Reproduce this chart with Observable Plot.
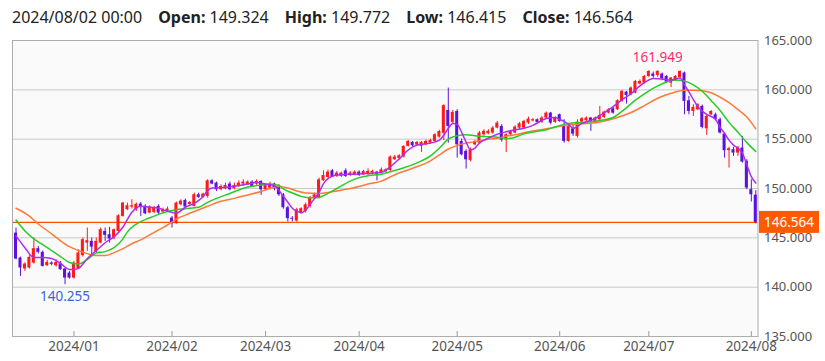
<!DOCTYPE html>
<html><head><meta charset="utf-8">
<script src="https://cdn.jsdelivr.net/npm/d3@7"></script>
<script src="https://cdn.jsdelivr.net/npm/@observablehq/plot@0.6"></script>
<style>
body{margin:0;background:#fff;font-family:"Noto Sans",sans-serif;}
#hdr{height:36px;line-height:35px;padding-left:12px;font-size:16px;color:#222;white-space:nowrap;}
#hdr span{margin-right:16px}
#hdr b{font-weight:700}
</style></head><body>
<div id="hdr"></div>
<div id="chart"></div>
<script>
// ---- data ----
const opens  = [145.48,142.95,141.84,141.94,142.44,143.90,143.53,142.17,142.44,142.17,142.37,141.84,141.43,140.92,141.84,143.19,144.47,144.64,143.53,144.47,145.65,145.31,144.98,145.65,147.17,147.85,148.12,147.85,148.42,148.19,147.51,147.58,148.19,147.61,147.71,147.00,146.43,148.35,148.79,148.38,148.19,149.36,149.10,149.20,150.78,150.55,149.87,149.97,150.45,149.97,150.21,150.45,150.38,150.65,150.45,150.72,149.87,150.04,150.45,150.21,149.36,148.05,146.98,146.70,147.55,147.68,148.18,149.10,149.03,150.78,151.12,151.79,151.22,151.22,151.79,151.32,151.39,151.66,151.39,151.46,151.56,151.66,151.56,151.70,151.83,152.91,153.05,153.19,154.27,154.67,154.40,154.27,154.43,154.60,154.77,155.21,155.60,157.91,156.70,157.81,154.77,153.76,152.85,154.43,154.60,155.45,155.55,155.62,156.12,156.29,154.94,155.45,155.62,156.12,156.12,156.63,156.85,156.97,156.70,157.14,157.64,156.70,157.47,156.29,154.77,156.05,155.28,156.73,156.87,157.14,156.63,156.97,157.20,157.64,158.08,157.98,158.83,159.77,159.50,159.67,160.58,160.68,161.36,161.60,161.46,161.60,161.36,160.68,160.92,161.26,161.70,158.89,157.81,157.98,158.32,156.05,157.47,157.47,156.97,155.52,153.83,153.93,153.59,154.10,152.75,149.88,149.324];
const highs  = [145.99,143.05,142.47,143.19,144.98,144.13,143.66,142.71,142.58,142.78,142.61,141.94,141.60,142.61,143.79,144.98,145.99,144.98,144.98,145.99,145.99,146.06,145.89,147.34,148.59,148.52,148.86,148.52,148.59,148.35,148.25,148.19,148.35,148.02,148.12,147.17,148.62,148.86,148.93,148.69,149.54,149.53,149.53,150.88,150.88,150.65,150.38,150.55,150.65,150.55,150.78,150.88,150.78,150.78,150.88,150.78,150.45,150.65,150.55,150.38,149.50,148.20,147.15,148.00,148.05,148.52,149.20,149.53,151.05,151.79,151.86,151.93,151.73,151.66,151.99,151.73,151.79,151.79,151.86,151.99,151.86,151.73,152.07,152.00,153.30,153.35,153.42,154.34,154.88,154.77,154.77,154.77,154.90,155.00,155.55,155.90,158.50,160.18,157.90,157.98,155.00,153.93,154.10,154.90,155.78,155.95,155.95,156.29,156.80,156.46,155.55,155.90,156.36,156.70,156.90,157.23,157.10,157.05,157.30,157.75,157.71,157.25,157.55,156.97,156.46,156.46,156.97,157.20,157.25,157.20,157.25,158.32,157.85,158.10,158.22,159.00,159.95,159.84,160.30,160.95,161.00,161.45,161.93,161.80,161.949,161.70,161.45,161.26,161.45,161.93,161.80,159.33,158.49,158.60,158.45,157.47,157.90,157.64,157.14,155.62,154.17,154.17,154.27,155.28,152.92,150.89,149.772];
const lows   = [142.78,141.09,141.60,141.84,142.34,143.36,142.04,142.11,142.17,142.04,141.70,140.255,140.82,140.82,141.77,143.05,143.63,143.29,143.46,144.40,144.64,144.47,144.81,145.48,147.10,147.78,147.92,147.68,147.17,147.34,147.44,147.44,147.34,147.51,147.58,145.99,146.40,148.25,148.02,148.25,148.12,149.00,149.03,149.03,150.38,149.70,149.77,149.87,149.77,149.87,150.11,150.21,150.31,150.11,150.31,149.30,149.77,149.87,149.77,149.20,147.90,146.60,146.62,146.60,147.40,147.51,148.01,148.95,148.95,150.72,151.05,151.12,151.12,151.12,151.12,151.22,151.29,151.22,151.32,151.32,151.46,150.78,151.46,151.60,151.70,152.85,152.95,153.09,154.20,154.20,154.30,153.66,154.35,154.50,154.70,155.10,154.85,154.60,156.50,153.08,153.30,151.97,152.70,154.30,154.53,155.30,155.45,155.50,156.05,154.70,153.65,155.35,155.55,156.00,156.00,156.50,156.75,156.60,156.60,157.05,156.46,156.60,156.70,154.60,154.70,155.28,155.11,156.63,156.75,155.79,156.55,156.87,157.10,157.55,157.54,157.90,158.75,158.56,159.40,159.60,160.50,160.60,161.26,161.19,161.26,160.92,160.65,160.24,160.85,161.12,157.47,157.47,157.30,157.90,156.05,155.38,157.40,156.87,155.52,153.08,152.07,153.25,153.25,152.58,149.88,148.63,146.415];
const closes = [142.85,141.94,142.34,143.02,143.90,143.53,142.11,142.51,142.31,142.51,141.77,140.92,140.92,142.44,143.46,144.81,144.71,144.06,144.64,145.82,145.25,144.88,145.82,147.24,148.52,148.25,148.25,148.39,148.12,147.44,148.12,148.02,147.51,147.85,147.92,146.43,148.52,148.72,148.12,148.59,149.37,149.10,149.43,150.78,150.45,149.87,150.21,150.31,149.87,150.31,150.55,150.65,150.65,150.21,150.72,149.87,150.31,150.45,149.97,149.36,148.05,146.95,146.88,147.85,147.95,148.35,149.03,149.36,150.88,151.32,151.66,151.22,151.56,151.56,151.22,151.56,151.66,151.32,151.73,151.73,151.73,151.46,151.90,151.90,153.19,153.19,153.32,154.27,154.77,154.33,154.67,154.67,154.77,154.87,155.45,155.78,158.39,156.29,157.71,154.43,153.42,152.91,153.93,154.77,155.62,155.79,155.80,156.12,156.63,154.90,155.45,155.78,156.22,156.56,156.80,157.03,156.97,156.70,157.14,157.64,156.63,157.14,156.80,154.77,156.29,155.52,156.73,157.07,157.14,156.73,157.14,157.41,157.74,157.98,157.64,158.89,159.84,159.43,160.18,160.85,160.85,161.36,161.86,161.36,161.86,161.12,160.78,161.19,161.36,161.86,158.83,157.81,158.22,158.49,156.19,157.30,157.81,156.97,155.62,153.83,154.03,153.59,154.10,152.68,150.04,149.37,146.564];

// moving averages: [candle index, value]
const maFast = [[0,145.2],[2,144.0],[4,143.0],[6,143.0],[8,142.9],[10,142.4],[12,141.8],[13,141.8],[14,141.9],[16,142.9],[18,143.7],[20,144.5],[22,145.1],[24,146.1],[26,147.6],[28,148.2],[30,148.1],[32,148.0],[34,147.7],[36,147.5],[38,148.1],[40,148.5],[41,148.8],[42,149.2],[43,149.8],[44,150.05],[46,150.1],[48,150.15],[50,150.3],[52,150.45],[54,150.6],[56,150.45],[58,150.3],[59,149.8],[60,149.2],[61,148.6],[62,148.0],[63,147.7],[64,147.55],[65,147.8],[66,148.4],[67,149.0],[68,149.6],[69,150.5],[70,151.0],[71,151.25],[73,151.4],[75,151.45],[78,151.5],[80,151.55],[82,151.65],[84,152.2],[86,153.0],[88,153.9],[90,154.4],[93,154.6],[95,154.9],[96,155.4],[97,156.1],[98,156.6],[99,156.5],[100,155.7],[101,154.7],[102,153.9],[103,154.1],[104,154.6],[106,155.1],[108,155.5],[110,155.75],[112,155.95],[114,156.1],[116,156.4],[118,156.9],[119,157.1],[121,157.2],[122,157.0],[123,156.8],[124,156.5],[125,156.1],[127,156.6],[130,157.1],[132,157.7],[134,158.3],[136,159.0],[138,159.6],[140,160.4],[142,161.0],[143,161.15],[145,161.1],[147,161.0],[149,161.2],[150,160.5],[151,159.8],[152,159.0],[153,158.3],[155,157.5],[156,157.3],[157,157.0],[158,156.2],[159,155.6],[160,154.9],[161,154.4],[162,154.1],[163,153.6],[164,152.4],[165,151.2],[166,150.55]];
const maMid = [[0,146.8],[2,145.7],[4,144.9],[6,144.3],[8,143.7],[10,143.1],[12,142.5],[14,142.35],[16,142.8],[18,143.45],[20,143.6],[22,144.0],[24,144.9],[25,145.6],[27,146.4],[29,146.85],[31,147.2],[33,147.55],[36,147.85],[38,147.95],[41,148.1],[43,148.6],[45,149.0],[48,149.5],[50,149.85],[52,150.15],[55,150.35],[57,150.45],[59,150.3],[60,149.95],[62,149.55],[64,149.2],[66,149.05],[68,149.1],[70,149.5],[72,150.0],[75,150.75],[77,151.1],[79,151.3],[82,151.45],[84,151.7],[87,152.1],[90,152.6],[93,153.3],[95,154.1],[97,155.0],[99,155.35],[101,155.45],[103,155.35],[106,155.25],[108,155.2],[110,155.05],[112,155.2],[114,155.55],[117,155.8],[119,155.95],[121,156.25],[124,156.6],[127,156.7],[131,156.9],[134,157.2],[137,158.2],[139,158.95],[141,159.6],[144,160.4],[146,160.8],[148,161.0],[150,160.9],[152,160.5],[154,159.85],[156,158.9],[158,157.9],[160,156.7],[162,155.7],[164,154.65],[166,153.75]];
const maSlow = [[0,148.0],[3,147.2],[5,146.4],[8,145.4],[10,144.7],[12,144.1],[14,143.7],[16,143.4],[18,143.2],[20,143.2],[22,143.5],[24,143.9],[26,144.4],[28,144.8],[30,145.3],[32,145.8],[34,146.3],[36,146.9],[38,147.3],[41,147.85],[43,148.2],[46,148.7],[49,149.0],[52,149.35],[55,149.7],[57,150.0],[59,150.2],[61,150.05],[63,149.75],[65,149.55],[68,149.5],[70,149.6],[72,149.75],[75,150.0],[77,150.2],[79,150.45],[82,150.75],[85,151.4],[89,152.05],[93,152.8],[95,153.4],[97,154.0],[99,154.35],[101,154.6],[103,154.75],[106,155.0],[108,155.1],[110,155.3],[112,155.45],[115,155.75],[117,155.9],[119,156.05],[121,156.2],[124,156.45],[127,156.55],[131,156.75],[135,157.2],[138,157.7],[141,158.4],[144,159.15],[147,159.65],[150,159.95],[152,159.97],[154,159.9],[156,159.7],[158,159.25],[160,158.7],[162,158.0],[164,157.25],[166,156.05]];

const yTicks = [135,140,145,150,155,160,165];
const holidays = ["2024-01-01"];

// trading-day calendar (weekdays, minus holidays)
const dates = [];
for (let d = new Date(Date.UTC(2023,11,13)); d <= new Date(Date.UTC(2024,7,2)); d.setUTCDate(d.getUTCDate()+1)) {
  const wd = d.getUTCDay(), iso = d.toISOString().slice(0,10);
  if (wd === 0 || wd === 6 || holidays.includes(iso)) continue;
  dates.push(iso);
}
const candles = closes.map((c,i) => ({i, date: dates[i], open: opens[i], high: highs[i], low: lows[i], close: c}));
const tickIdx = candles.map(d => d.i).filter(i => i > 0 && dates[i].slice(0,7) !== dates[i-1].slice(0,7));
const monthLabel = i => dates[i].slice(0,7).replace("-","/");
const last = candles[candles.length-1];
const maxC = candles.reduce((a,b) => b.high > a.high ? b : a);
const minC = candles.reduce((a,b) => b.low < a.low ? b : a);

const UP = "#ff1a1a", DOWN = "#5c12dc";
const col = d => d.close >= d.open ? UP : DOWN;
const toPts = arr => arr.map(([i,v]) => ({i, v}));

document.getElementById("hdr").innerHTML =
  `<span>${last.date.replace(/-/g,"/")} 00:00</span>` +
  `<span><b>Open:</b> ${last.open.toFixed(3)}</span>` +
  `<span><b>High:</b> ${last.high.toFixed(3)}</span>` +
  `<span><b>Low:</b> ${last.low.toFixed(3)}</span>` +
  `<span><b>Close:</b> ${last.close.toFixed(3)}</span>`;

const W = 825, H = 325;
const chart = Plot.plot({
  width: W, height: H,
  marginTop: 4, marginBottom: 25, marginLeft: 12, marginRight: 67.5,
  x: {domain: [-0.79, 166.5], axis: null, label: null},
  y: {domain: [135, 165], axis: null, label: null},
  color: {type: "identity"},
  style: {fontFamily: "'Noto Sans', sans-serif", background: "transparent", overflow: "visible"},
  marks: [
    Plot.frame({fill: "#fafafa", stroke: null}),
    Plot.gridY(yTicks, {stroke: "#c8c8c8", strokeOpacity: 1}),
    Plot.ruleY([last.close], {stroke: "#ff5000", strokeWidth: 1.2}),
    Plot.ruleX(candles, {x: "i", y1: "low", y2: "high", stroke: col, strokeWidth: 1}),
    Plot.rect(candles, {x1: d => d.i - 0.34, x2: d => d.i + 0.34, y1: "open", y2: "close", fill: col}),
    Plot.line(toPts(maSlow), {x: "i", y: "v", stroke: "#ff7a3a", strokeWidth: 1.5, curve: "monotone-x"}),
    Plot.line(toPts(maMid), {x: "i", y: "v", stroke: "#28cc28", strokeWidth: 1.5, curve: "monotone-x"}),
    Plot.line(toPts(maFast), {x: "i", y: "v", stroke: "#b02cf0", strokeWidth: 1.5, curve: "monotone-x"}),
    Plot.ruleX(tickIdx, {y1: 135, y2: 135.5, stroke: "#999"}),
    Plot.frame({stroke: "#adadad"}),
    Plot.axisY(yTicks, {anchor: "right", label: null, tickSize: 0, tickPadding: 6, tickFormat: d => d.toFixed(3), fontSize: 13, fill: "#555"}),
    Plot.axisX(tickIdx, {anchor: "bottom", label: null, tickSize: 0, tickPadding: 5, tickFormat: monthLabel, fontSize: 13.5, fill: "#555"}),
    Plot.text([maxC], {x: "i", y: "high", text: d => d.high.toFixed(3), dy: -13, fill: "#ff2a6a", fontSize: 13.5}),
    Plot.text([minC], {x: "i", y: "low", text: d => d.low.toFixed(3), dy: 12, fill: "#3a64d8", fontSize: 13.5})
  ]
});
document.getElementById("chart").appendChild(chart);

// current-price tag on the right axis
const cy = chart.scale("y").apply(last.close);
const tag = d3.select(chart).append("g");
tag.append("rect").attr("x", W - 66).attr("y", cy - 11).attr("width", 60).attr("height", 22).attr("fill", "#ff5a00");
tag.append("text").attr("x", W - 36).attr("y", cy).attr("dy", "0.35em").attr("text-anchor", "middle")
  .attr("fill", "#fff").attr("font-size", 13.5).attr("font-family", "'Noto Sans', sans-serif").text(last.close.toFixed(3));
</script>
</body></html>
